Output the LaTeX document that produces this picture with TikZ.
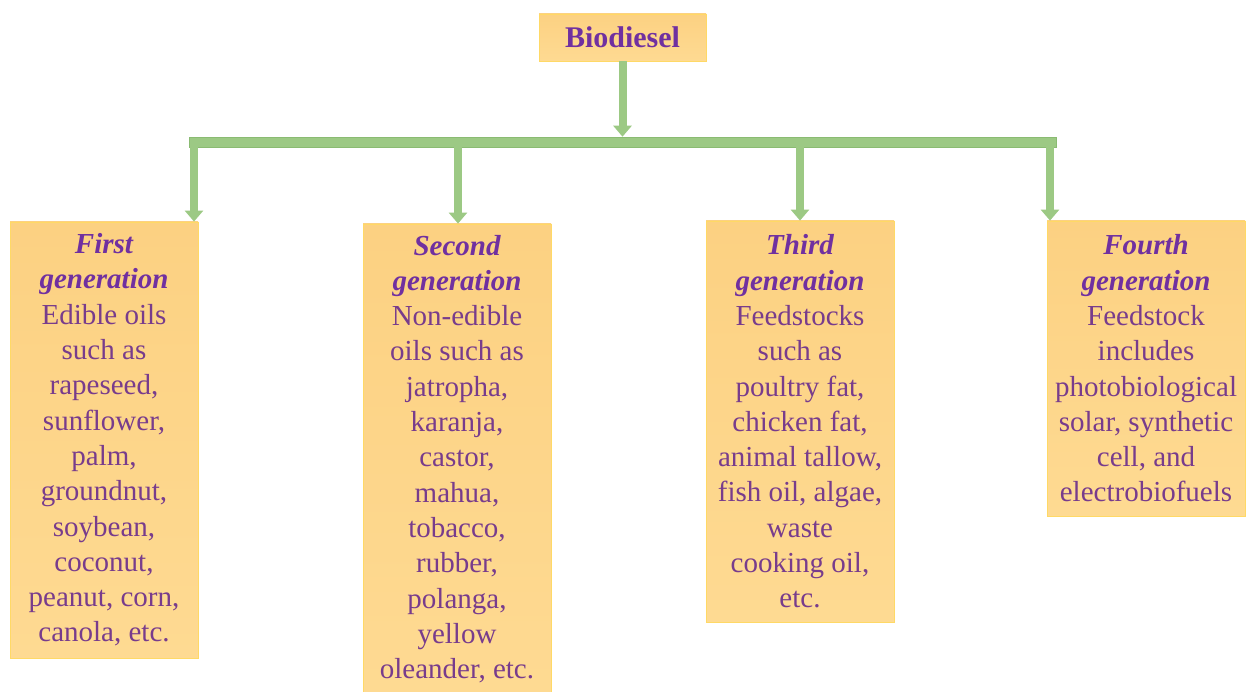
\documentclass[tikz,border=0pt]{standalone}
\usepackage{fontspec}
\setmainfont{Liberation Serif}
\usetikzlibrary{arrows.meta}

\definecolor{headcol}{HTML}{7030A0}
\definecolor{bodycol}{HTML}{783C8C}
\definecolor{boxtop}{HTML}{FCD182}
\definecolor{boxbot}{HTML}{FEDA92}
\definecolor{boxedge}{HTML}{FFD966}
\definecolor{arrfill}{HTML}{9CC984}
\definecolor{arredge}{HTML}{8ABB72}

\newcommand{\gen}[1]{\textbf{\textit{\color{headcol}#1}}}

\begin{document}
\begin{tikzpicture}[x=1pt,y=-1pt,
  genbox/.style={rectangle, draw=boxedge, line width=0.8pt,
    top color=boxtop, bottom color=boxbot, inner sep=0pt,
    align=center, text=bodycol,
    font=\fontsize{29}{35.3}\selectfont},
  rootbox/.style={genbox, text=headcol,
    font=\fontsize{30}{36}\selectfont\bfseries},
  greenarrow/.style={draw=arrfill, line width=8pt,
    -{Triangle[width=18pt,length=11pt]}},
  greenbar/.style={rectangle, fill=arrfill, draw=arredge, line width=0.6pt,
    inner sep=0pt}
]
\useasboundingbox[fill=white] (0,0) rectangle (1247,692);

% root of the tree
\node[rootbox, minimum width=167, minimum height=47] (root) at (622.5,37.5) {Biodiesel};

% horizontal distribution bar
\node[greenbar, minimum width=867, minimum height=10] (bar) at (622.5,142) {};

% the four generations
\node[genbox, minimum width=188, minimum height=436] (g1) at (104,440)
  {\gen{First}\\ \gen{generation}\\ Edible oils\\ such as\\ rapeseed,\\ sunflower,\\ palm,\\ groundnut,\\ soybean,\\ coconut,\\ peanut, corn,\\ canola, etc.};
\node[genbox, minimum width=188, minimum height=470] (g2) at (457,459)
  {\gen{Second}\\ \gen{generation}\\ Non-edible\\ oils such as\\ jatropha,\\ karanja,\\ castor,\\ mahua,\\ tobacco,\\ rubber,\\ polanga,\\ yellow\\ oleander, etc.};
\node[genbox, minimum width=188, minimum height=401] (g3) at (800,421.5)
  {\gen{Third}\\ \gen{generation}\\ Feedstocks\\ such as\\ poultry fat,\\ chicken fat,\\ animal tallow,\\ fish oil, algae,\\ waste\\ cooking oil,\\ etc.};
\node[genbox, minimum width=198, minimum height=295] (g4) at (1146,368.5)
  {\gen{Fourth}\\ \gen{generation}\\ Feedstock\\ includes\\ photobiological\\ solar, synthetic\\ cell, and\\ electrobiofuels};

% drop positions along the bar
\coordinate (d1) at (194,0);
\coordinate (d2) at (458,0);
\coordinate (d3) at (800,0);
\coordinate (d4) at (1050,0);

% connectors
\draw[greenarrow] (root.south) -- (bar.north);
\draw[greenarrow] (bar.south -| d1) -- (g1.north -| d1);
\draw[greenarrow] (bar.south -| d2) -- (g2.north -| d2);
\draw[greenarrow] (bar.south -| d3) -- (g3.north -| d3);
\draw[greenarrow] (bar.south -| d4) -- (g4.north -| d4);
\end{tikzpicture}
\end{document}
